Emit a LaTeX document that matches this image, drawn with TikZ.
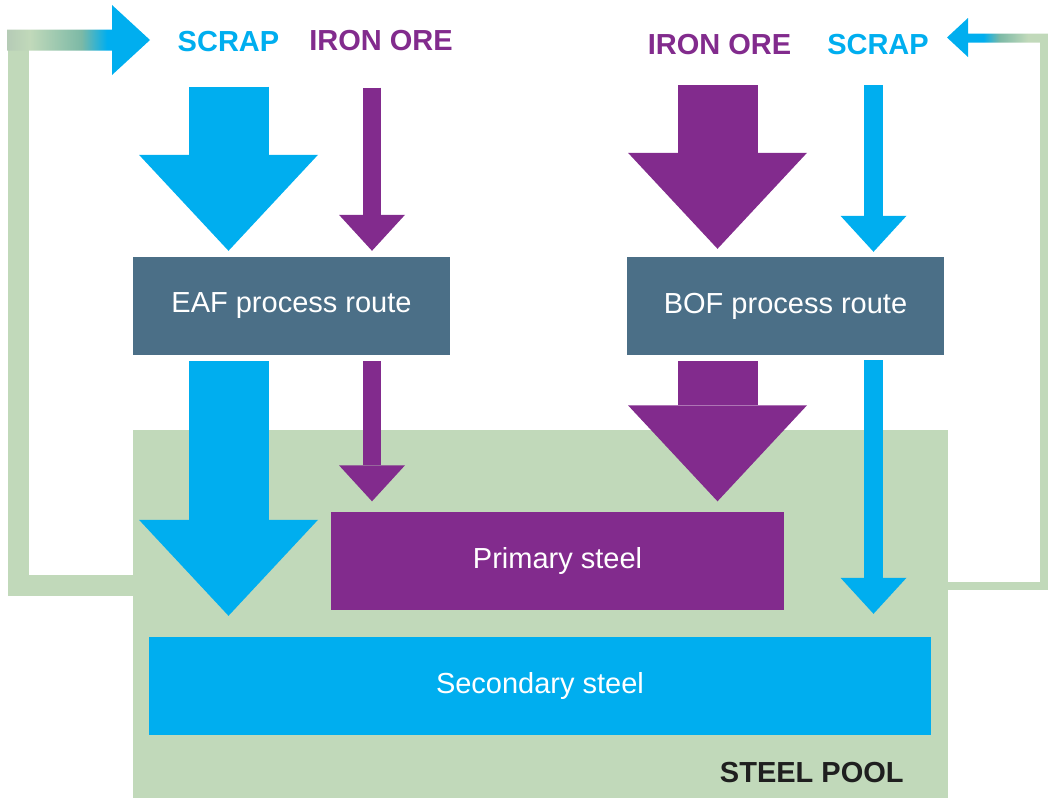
\documentclass[tikz,border=0pt]{standalone}
\usepackage{fontspec}
\setmainfont{Liberation Sans}
\usepackage{xcolor}
\usetikzlibrary{arrows.meta}

\definecolor{scrap}{HTML}{00AEEF}
\definecolor{ore}{HTML}{822B8D}
\definecolor{route}{HTML}{4B6F87}
\definecolor{pool}{HTML}{C1D9BA}
\definecolor{loopgray}{HTML}{B5CBB6}
\definecolor{loopteal}{HTML}{7CB9A6}

\pgfdeclarehorizontalshading{scrapfadeL}{100bp}{color(0bp)=(loopgray); color(25bp)=(loopgray); color(33bp)=(pool); color(51bp)=(loopteal); color(60bp)=(scrap); color(100bp)=(scrap)}
\pgfdeclarehorizontalshading{scrapfadeR}{100bp}{color(0bp)=(scrap); color(43bp)=(scrap); color(51bp)=(loopteal); color(65bp)=(pool); color(100bp)=(pool)}

\begin{document}
\begin{tikzpicture}[x=1pt,y=-1pt,
    head/.style={font=\fontsize{29}{35}\selectfont\bfseries,anchor=base},
    box/.style={font=\fontsize{29}{35}\selectfont,text=white,inner sep=0pt,minimum height=98pt},
    bigflow/.style={line width=80pt,-{Triangle[width=179pt,length=96pt,line width=0pt]}},
    thinflow/.style={line width=18.5pt,-{Triangle[width=66pt,length=36pt,line width=0pt]}}]
  \useasboundingbox (0,0) rectangle (1048,798);

  % steel pool
  \node[fill=pool,inner sep=0pt,minimum width=815pt,minimum height=368pt] (pool) at (540.5,614) {};
  \node[head,anchor=base east,text=black!88] (poollabel) at ([xshift=-41pt,yshift=16pt]pool.south east) {STEEL POOL};

  % recycling loops
  \draw[pool,line width=21pt] (pool.west |- 0,585.5) -| (18,50);
  \shade[shading=scrapfadeL] (7,29.5) -- (112,29.5) -- (112,5) -- (150,40) -- (112,75) -- (112,50.5) -- (7,50.5) -- cycle;
  \draw[pool,line width=8pt] (pool.east |- 0,586) -| (1044,40);
  \shade[shading=scrapfadeR] (947,37.5) -- (968,18) -- (968,33.5) -- (1048,33.5) -- (1048,42.5) -- (968,42.5) -- (968,57) -- cycle;

  % routes and products
  \node[box,fill=route,minimum width=317pt] (eaf) at (291.5,306) {EAF process route};
  \node[box,fill=route,minimum width=317pt] (bof) at (785.5,306) {BOF process route};
  \node[box,fill=ore,minimum width=453pt] (primary) at (557.5,560.5) {Primary steel};
  \node[box,fill=scrap,minimum width=782pt] (secondary) at (540,686) {Secondary steel};

  % inputs
  \node[head,text=scrap] (scrapeaf) at (228.5,51.5) {SCRAP};
  \node[head,text=ore] (oreeaf) at (381,50.7) {IRON ORE};
  \node[head,text=ore] (orebof) at (719.5,54) {IRON ORE};
  \node[head,text=scrap] (scrapbof) at (878,54) {SCRAP};

  \coordinate (eafscrap) at ([xshift=-63pt]eaf.north);
  \coordinate (eafore) at ([xshift=80.5pt]eaf.north);
  \coordinate (bofore) at ([xshift=-68pt]bof.north);
  \coordinate (bofscrap) at ([xshift=88pt]bof.north);

  % flows into the routes
  \draw[bigflow,scrap,shorten <=35pt,shorten >=6pt] (eafscrap |- scrapeaf.base) -- (eafscrap);
  \draw[thinflow,ore,shorten <=37pt,shorten >=6pt] (eafore |- oreeaf.base) -- (eafore);
  \draw[bigflow,ore,shorten <=31pt,shorten >=8pt] (bofore |- orebof.base) -- (bofore);
  \draw[thinflow,scrap,shorten <=31pt,shorten >=5pt] (bofscrap |- scrapbof.base) -- (bofscrap);

  % flows into the pool
  \draw[bigflow,scrap,shorten <=6pt,shorten >=21pt] (eafscrap |- eaf.south) -- (eafscrap |- secondary.north);
  \draw[thinflow,ore,shorten <=6pt,shorten >=10pt] (eafore |- eaf.south) -- (eafore |- primary.north);
  \draw[bigflow,ore,shorten <=6pt,shorten >=10pt] (bofore |- bof.south) -- (bofore |- primary.north);
  \draw[thinflow,scrap,shorten <=5pt,shorten >=23pt] (bofscrap |- bof.south) -- (bofscrap |- secondary.north);
\end{tikzpicture}
\end{document}
